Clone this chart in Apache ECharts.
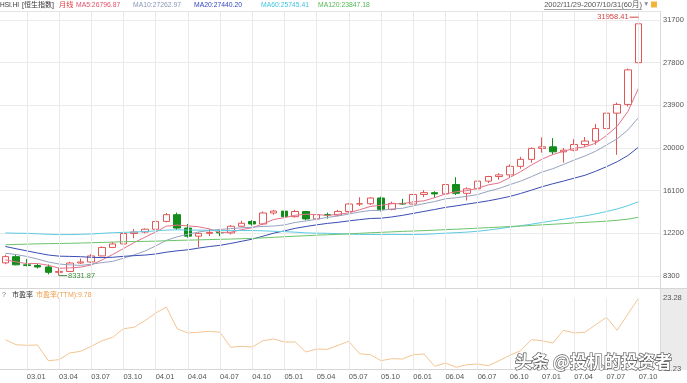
<!DOCTYPE html>
<html><head><meta charset="utf-8">
<script src="https://cdn.jsdelivr.net/npm/echarts@6/dist/echarts.min.js"></script>
<style>html,body{margin:0;padding:0;background:#fff}#c{width:687px;height:383px}</style>
</head><body><div id="c"></div>
<script>
const categories = ['02.11','02.12',
 '03.01','03.02','03.03','03.04','03.05','03.06','03.07','03.08','03.09','03.10','03.11','03.12',
 '04.01','04.02','04.03','04.04','04.05','04.06','04.07','04.08','04.09','04.10','04.11','04.12',
 '05.01','05.02','05.03','05.04','05.05','05.06','05.07','05.08','05.09','05.10','05.11','05.12',
 '06.01','06.02','06.03','06.04','06.05','06.06','06.07','06.08','06.09','06.10','06.11','06.12',
 '07.01','07.02','07.03','07.04','07.05','07.06','07.07','07.08','07.09','07.10'];
const opens = [9500,10070,9321,9259,9123,8634,8717,9487,9577,10135,
 10909,11230,12190,12317,12576,13289,13907,12682,11943,12198,
 12286,12238,12850,13280,13055,14060,14230,13722,14195,13517,
 13909,13867,14201,14881,14904,15429,14386,14937,14876,15753,
 15918,15805,16661,15858,16268,16971,17392,17543,18324,18960,
 19965,20106,19651,19801,20319,20634,21773,23185,23984,27800];
const closes = [10069.87,9321.29,9258.95,9122.66,8634.45,8717.22,9487.38,9577.12,10134.83,10908.99,
 11229.87,12190.10,12317.47,12575.94,13289.37,13907.03,12681.67,11942.96,12198.24,12285.75,
 12238.03,12850.28,13120.03,13054.66,14060.00,14230.14,13721.69,14195.35,13516.88,13908.97,
 13867.07,14201.06,14880.98,14903.55,15428.52,14386.37,14937.14,14876.43,15753.14,15918.48,
 15805.04,16661.30,15857.89,16267.62,16971.34,17392.27,17543.05,18324.35,18960.48,19964.72,
 20106.42,19651.51,19800.93,20318.98,20634.47,21772.73,23184.94,23983.63,27142.47,31352.58];
const lows = [9380,9280,9180,8990,8450,8331.87,8700,9400,9500,10100,
 10850,11200,11750,12200,12550,13200,12500,11800,10917,11950,
 11950,12100,12800,12900,12950,13900,13350,13650,13400,13300,
 13550,13750,14100,14700,14800,14189,14300,14800,14850,15500,
 15450,15700,15700,15204,16000,16800,17100,17300,18100,18650,
 19570,19400,18659,19700,20100,20300,21500,19386,23800,26830];
const highs = [10240,10260,9850,9400,9350,9060,9600,9900,10300,11000,
 11400,12300,12600,12650,13850,14058,14100,13050,12300,12600,
 12450,12950,13350,13400,14200,14340,14300,14350,14250,13950,
 14100,14350,14950,15500,15500,15550,15100,15350,15800,16150,
 16050,17100,17328,16400,17000,17450,17700,18500,19200,20049,
 20971,20900,20000,20800,21000,22200,23600,24150,27254,31958.41];
const ma5 = [9778.8,9589.6,9432.6,9442.8,9281.4,9010.8,9044,9107.6,9310,9765,
 10267.6,10808.2,11356.2,11844.4,12320.4,12855.8,12954.2,12879.4,12803.8,12603.2,
 12269.4,12303,12538.4,12709.8,13064.6,13463,13637.4,13852.4,13944.8,13914.6,
 13842,13937.8,14075,14352.4,14656.4,14760.2,14907.4,14906.4,15076.2,15174,
 15457.8,15802.6,15999,16102,16312.6,16630,16806.4,17299.6,17838,18436.8,
 18979.6,19401.4,19696.8,19968.6,20102.4,20435.8,21142.4,21979,23343.6,25487.4];
const ma10 = [10380.5,10264.4,10087,9849.6,9582.9,9394.8,9316.8,9270.1,9376.4,9523.2,
 9639.2,9926.1,10231.9,10577.2,11042.7,11561.7,11881.2,12117.8,12324.1,12461.8,
 12562.6,12628.6,12708.9,12756.8,12833.9,12866.2,12970.2,13195.4,13327.3,13489.6,
 13652.5,13787.6,13963.7,14148.6,14285.5,14301.1,14422.6,14490.7,14714.3,14915.2,
 15109,15355,15452.7,15589.1,15743.3,16043.9,16304.5,16649.3,16970,17374.7,
 17804.8,18103.9,18498.2,18903.3,19269.6,19707.7,20271.9,20837.9,21656.1,22794.9];
const ma20 = [10995.9,10792.6,10596.9,10400.9,10216.8,10114.2,10091,10066.2,10009,9984.6,
 10009.9,10095.3,10159.5,10213.4,10312.8,10478.3,10599,10694,10850.3,10992.5,
 11100.9,11277.4,11470.4,11667,11938.3,12214,12425.7,12656.6,12825.7,12975.7,
 13107.6,13208.1,13336.3,13452.7,13559.7,13583.7,13696.4,13843.1,14020.8,14202.4,
 14380.8,14571.3,14708.2,14868.9,15014.4,15172.5,15363.6,15570,15842.2,16145,
 16456.9,16729.5,16975.5,17246.2,17506.5,17875.8,18288.2,18743.6,19313.1,20084.8];
const ma60 = [12234.4,12211.1,12199.8,12160.2,12112.2,12079.9,12089.4,12106.6,12138.2,12198.8,
 12254.6,12288.5,12320.4,12362.5,12425.6,12493,12522,12500.9,12493.1,12472.3,
 12460.4,12450.5,12456.9,12453.6,12431.6,12386.1,12355.9,12306.3,12241.5,12214.7,
 12200.6,12168,12135.3,12098.8,12095.1,12086.6,12099.8,12096.2,12090.3,12108.4,
 12159.2,12213.7,12258.5,12312.2,12389.8,12500.2,12626.7,12764.3,12892.3,13035.1,
 13191.4,13344.3,13490.4,13637.4,13793,13979.2,14194.5,14426.9,14728,15093.2];
const ma120 = [11153.1,11184.8,11214.9,11238.7,11256.7,11270.9,11290.5,11312.7,11339.8,11369.8,
 11401.9,11430.3,11456.9,11462.6,11486,11519.7,11553.5,11576.4,11599.7,11630.4,
 11653.4,11676.9,11708.3,11738.3,11784,11834.4,11888.9,11938.9,11982.9,12030.7,
 12067,12109.6,12154.5,12203,12250.7,12290.9,12335.2,12375.2,12410,12448.9,
 12489.5,12536.4,12576.1,12622.6,12673.4,12723.1,12770,12819.2,12864.3,12918.6,
 12976.1,13028.7,13085.7,13149.1,13200.4,13255.2,13312,13394.1,13494.9,13667.6];
const pe = [16.20,15.35,15.25,15.30,12.64,12.81,13.95,14.23,15.08,16.03,
 16.61,18.07,18.31,19.43,20.73,21.75,18.07,17.34,17.46,17.63,
 17.46,14.91,15.08,14.96,16.03,16.32,15.81,15.81,14.12,14.62,
 14.57,15.25,15.93,13.83,13.66,12.64,12.98,12.93,13.66,13.78,
 11.69,12.25,11.52,11.96,12.08,11.79,12.64,13.56,14.34,16.20,
 16.03,15.64,17.80,17.34,17.46,18.75,20.00,17.80,20.56,23.28];
const priceTicks = [8300,12200,16100,20000,23900,27800,31700];
const peAxisLabels = [11.23, 23.28];

const FONT = "'Liberation Sans','Noto Sans CJK SC',sans-serif";
const FS = 7.5;
const HFS = 6.8;
const tickBase = priceTicks[0];
const tickStep = priceTicks[1] - priceTicks[0];
const tickSpan = priceTicks[priceTicks.length-1] - tickBase;
const pxPerUnit = 256 / tickSpan;
const yMax = priceTicks[priceTicks.length-1] + 8 / pxPerUnit;
const yMin = tickBase - 12 / pxPerUnit;

const gridCats = categories.filter((c, i) => i % 3 === 2);
const candleData = categories.map((c, i) => [opens[i], closes[i], lows[i], highs[i]]);
let hiIdx = 0, loIdx = 0;
highs.forEach((v, i) => { if (v > highs[hiIdx]) hiIdx = i; });
lows.forEach((v, i) => { if (v < lows[loIdx]) loIdx = i; });

const vLines = () => ({
  silent: true, symbol: ['none','none'], label: {show: false},
  lineStyle: {color: '#e9e9e9', width: 1, type: 'solid'},
  emphasis: {disabled: true},
  data: gridCats.map(c => ({xAxis: c}))
});

function maSeries(name, data, color) {
  return {name, type: 'line', xAxisIndex: 1, yAxisIndex: 1, data, symbol: 'none',
    lineStyle: {width: 1, color}, itemStyle: {color}, z: 4, silent: true};
}

function T(text, x, y, fill, fs, align) {
  return {type: 'text', x, y, silent: true, z: 50,
    style: {text, fill, fontSize: fs || HFS, fontFamily: FONT, verticalAlign: 'middle', align: align || 'left'}};
}

const hdr = [
  ['HSI.HI', 0, '#333', 6.5], ['[恒生指数]', 22, '#333', 7], ['月线', 59, '#e23a3a', 7.2],
  ['MA5:26796.87', 76, '#e2506a', HFS], ['MA10:27262.97', 133, '#8a97b8', HFS],
  ['MA20:27440.20', 194, '#3548c0', HFS], ['MA60:25745.41', 261, '#42c3e3', HFS],
  ['MA120:23847.18', 318, '#56b856', HFS]
];

const graphics = [
  {type: 'rect', shape: {x: 660, y: 289, width: 27, height: 81}, style: {fill: '#ebebeb'}, z: -5, silent: true},
  {type: 'line', shape: {x1: 0, y1: 11.5, x2: 660, y2: 11.5}, style: {stroke: '#e4e4e4', lineWidth: 1}, silent: true},
  {type: 'line', shape: {x1: 0, y1: 288.5, x2: 687, y2: 288.5}, style: {stroke: '#d6d6d6', lineWidth: 1}, silent: true},
  {type: 'line', shape: {x1: 0, y1: 369.5, x2: 660, y2: 369.5}, style: {stroke: '#d6d6d6', lineWidth: 1}, silent: true},
  {type: 'line', shape: {x1: 660.5, y1: 11, x2: 660.5, y2: 370}, style: {stroke: '#dadada', lineWidth: 1}, silent: true},
  {type: 'line', shape: {x1: 544, y1: 9.5, x2: 642, y2: 9.5}, style: {stroke: '#666', lineWidth: 0.6}, silent: true},
  {type: 'rect', shape: {x: 651, y: 1.5, width: 6, height: 6}, style: {fill: '#f2b33a'}, silent: true},
];
hdr.forEach(h => graphics.push(T(h[0], h[1], 5, h[2], h[3])));
graphics.push(T('2002/11/29-2007/10/31(60月)', 642, 4.5, '#555', 7.5, 'right'));
graphics.push(T('▼', 643, 4.5, '#8b90a3', 6.5));
graphics.push(T('?', 2, 295, '#777', 7));
graphics.push(T('市盈率', 12, 295, '#333', 7));
graphics.push(T('市盈率(TTM):9.78', 36, 295, '#f0a050', 7));
graphics.push({type: 'text', x: 515, y: 362, z: 100, silent: true,
  style: {text: '头条 @投机的投资者', fill: '#ffffff', stroke: '#5a5a5a', lineWidth: 1.3,
    fontSize: 17, fontWeight: 'bold', fontFamily: "'Noto Sans CJK SC',sans-serif", verticalAlign: 'middle'}});

const option = {
  animation: false,
  backgroundColor: '#fff',
  grid: [
    {left: 0, right: 27, top: 20, height: 256},
    {left: 0, right: 43, top: 12, height: 276},
    {left: 0, right: 43, top: 298, height: 71}
  ],
  xAxis: [
    {gridIndex: 0, type: 'value', min: 0, max: 1, show: false},
    {gridIndex: 1, type: 'category', data: categories, boundaryGap: true, show: false},
    {gridIndex: 2, type: 'category', data: categories, boundaryGap: true,
      axisLine: {show: false}, axisTick: {show: false}, splitLine: {show: false},
      axisLabel: {interval: (i) => i % 3 === 2, align: 'left', margin: 4, fontSize: FS, color: '#555', fontFamily: FONT}}
  ],
  yAxis: [
    {gridIndex: 0, type: 'value', position: 'right', min: 0, max: tickSpan, interval: tickStep,
      axisLine: {show: false}, axisTick: {show: false},
      axisLabel: {margin: 3, fontSize: FS, color: '#555', fontFamily: FONT, formatter: (v) => String(v + tickBase)},
      splitLine: {lineStyle: {color: '#ebebeb', width: 1}}},
    {gridIndex: 1, type: 'value', min: yMin, max: yMax, show: false, splitLine: {show: false}},
    {gridIndex: 2, type: 'value', position: 'right', offset: 16, min: peAxisLabels[0], max: peAxisLabels[1],
      axisLine: {show: false}, axisTick: {show: false}, splitLine: {show: false},
      axisLabel: {margin: 3, fontSize: FS, color: '#555', fontFamily: FONT, showMinLabel: true, showMaxLabel: true,
        formatter: (v) => (Math.abs(v - peAxisLabels[0]) < 1e-6 || Math.abs(v - peAxisLabels[1]) < 1e-6) ? v.toFixed(2) : ''}}
  ],
  series: [
    {type: 'line', xAxisIndex: 0, yAxisIndex: 0, data: [], silent: true},
    {type: 'line', xAxisIndex: 1, yAxisIndex: 1, data: [], z: 1, silent: true, markLine: vLines()},
    {type: 'line', xAxisIndex: 2, yAxisIndex: 2, data: [], z: 1, silent: true, markLine: vLines()},
    {name: 'K', type: 'candlestick', xAxisIndex: 1, yAxisIndex: 1, data: candleData, barWidth: 7, z: 3, silent: true,
      itemStyle: {color: '#ffffff', color0: '#138c1c', borderColor: '#e25656', borderColor0: '#138c1c', borderWidth: 1},
      markPoint: {silent: true, animation: false, data: [
        {coord: [categories[hiIdx], highs[hiIdx]], symbol: 'rect', symbolSize: [9, 1], symbolOffset: [-4.5, 0],
          itemStyle: {color: '#d64040'},
          label: {show: true, position: 'left', distance: 1, formatter: highs[hiIdx].toFixed(2), color: '#d64040', fontSize: FS, fontFamily: FONT}},
        {coord: [categories[loIdx], lows[loIdx]], symbol: 'rect', symbolSize: [8, 1], symbolOffset: [4, 0],
          itemStyle: {color: '#3c8c3c'},
          label: {show: true, position: 'right', distance: 1, formatter: lows[loIdx].toFixed(2), color: '#3c8c3c', fontSize: FS, fontFamily: FONT}}
      ]}},
    maSeries('MA5', ma5, '#e4728a'),
    maSeries('MA10', ma10, '#97a3c0'),
    maSeries('MA20', ma20, '#3a4db4'),
    maSeries('MA60', ma60, '#5ccbe2'),
    maSeries('MA120', ma120, '#6cc46c'),
    {name: 'PE', type: 'line', xAxisIndex: 2, yAxisIndex: 2, data: pe, symbol: 'none', silent: true,
      lineStyle: {width: 1, color: '#f3c592'}, z: 4}
  ],
  graphic: graphics
};
const chart = echarts.init(document.getElementById('c'), null, {renderer: 'canvas'});
chart.setOption(option);
</script></body></html>
